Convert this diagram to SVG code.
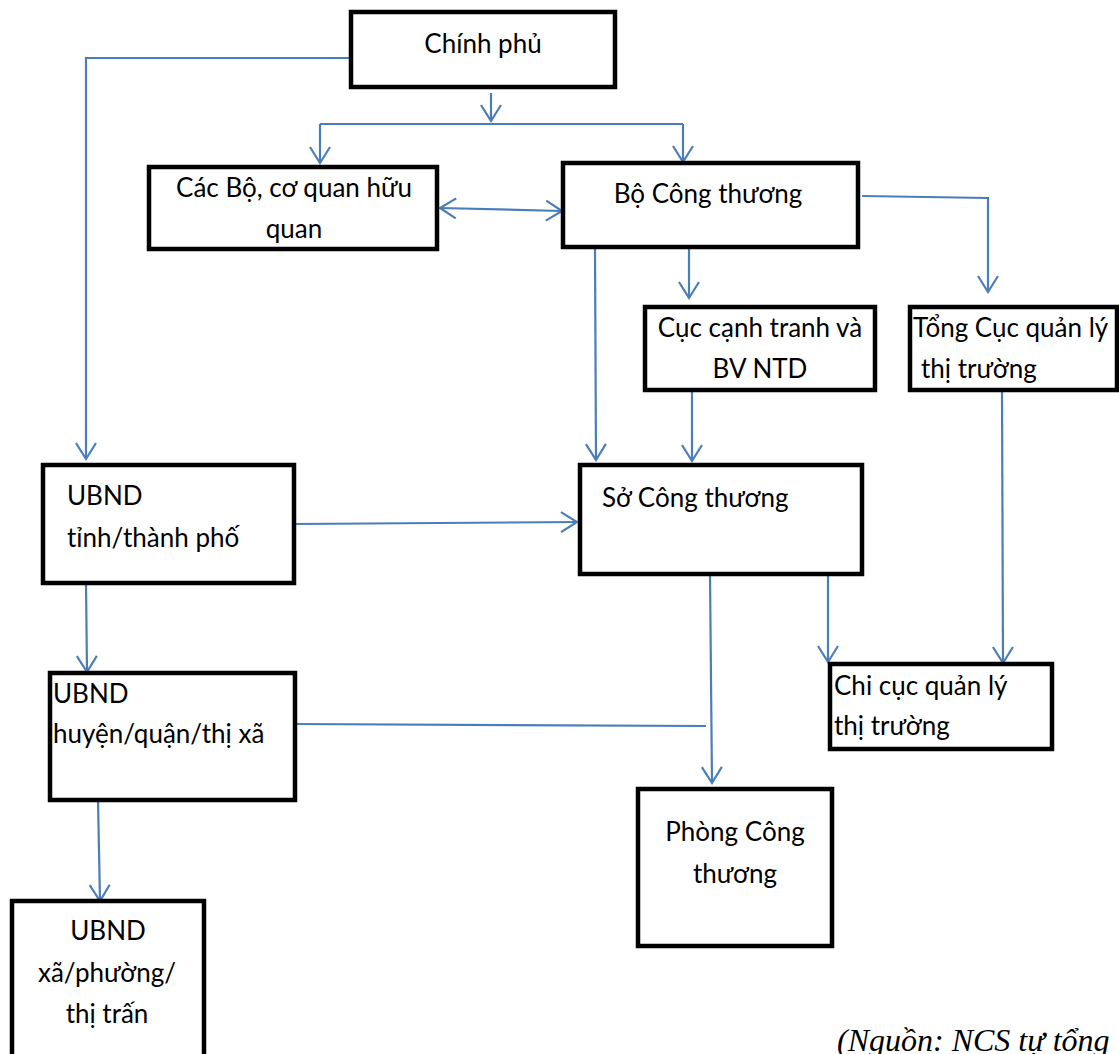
<svg xmlns="http://www.w3.org/2000/svg" width="1119" height="1054" viewBox="0 0 1119 1054">
<style>
  .box { fill: #ffffff; stroke: #000000; stroke-width: 4.5; }
  .t { font-family: Lato, "Open Sans", sans-serif; font-size: 26px; fill: #000000; }
  .c { text-anchor: middle; }
  .ln { fill: none; stroke: #4a7ebb; stroke-width: 2.2; }
  .arr { marker-end: url(#ah); }
  .cap { font-family: "Liberation Serif", serif; font-style: italic; font-size: 32px; fill: #000000; }
</style>
<defs>
  <marker id="ah" markerUnits="userSpaceOnUse" markerWidth="24" markerHeight="24" viewBox="-20 -12 24 24" refX="0" refY="0" orient="auto-start-reverse">
    <path d="M-16,-10 L0,0 L-16,10" fill="none" stroke="#4a7ebb" stroke-width="2.2"/>
  </marker>
</defs>
<rect width="1119" height="1054" fill="#ffffff"/>

<g id="connectors">
  <polyline class="ln arr" points="350,58 86,58 86,459"/>
  <line class="ln arr" x1="491" y1="93" x2="491" y2="121"/>
  <line class="ln" x1="320" y1="124" x2="683" y2="124"/>
  <line class="ln arr" x1="320" y1="124" x2="320" y2="163"/>
  <line class="ln arr" x1="683" y1="124" x2="683" y2="162"/>
  <line class="ln arr" x1="440" y1="208" x2="562" y2="211" marker-start="url(#ah)"/>
  <polyline class="ln arr" points="862,196 988,198 988,292"/>
  <line class="ln arr" x1="689" y1="249" x2="689" y2="298"/>
  <line class="ln arr" x1="595" y1="249" x2="596" y2="460"/>
  <line class="ln arr" x1="692" y1="390" x2="692" y2="461"/>
  <line class="ln arr" x1="1002" y1="390" x2="1003" y2="663"/>
  <line class="ln arr" x1="295" y1="524" x2="577" y2="522"/>
  <line class="ln arr" x1="710" y1="574" x2="712" y2="783"/>
  <line class="ln arr" x1="828" y1="574" x2="828" y2="662"/>
  <line class="ln arr" x1="86" y1="583" x2="87" y2="672"/>
  <line class="ln" x1="295" y1="724" x2="706" y2="726"/>
  <line class="ln arr" x1="98" y1="800" x2="100" y2="901"/>
</g>

<g id="chinh-phu">
  <rect class="box" x="351" y="12" width="264" height="75"/>
  <text class="t c" x="483" y="53">Chính phủ</text>
</g>
<g id="cac-bo">
  <rect class="box" x="149" y="167" width="288" height="82"/>
  <text class="t c" x="294" y="197">Các Bộ, cơ quan hữu</text>
  <text class="t c" x="294" y="238">quan</text>
</g>
<g id="bo-cong-thuong">
  <rect class="box" x="563" y="163" width="295" height="84"/>
  <text class="t c" x="708" y="203">Bộ Công thương</text>
</g>
<g id="cuc-canh-tranh">
  <rect class="box" x="645" y="307" width="230" height="83"/>
  <text class="t c" x="760" y="337">Cục cạnh tranh và</text>
  <text class="t c" x="760" y="378">BV NTD</text>
</g>
<g id="tong-cuc">
  <rect class="box" x="910" y="307" width="207" height="83"/>
  <text class="t" x="913" y="337">Tổng Cục quản lý</text>
  <text class="t" x="921" y="378">thị trường</text>
</g>
<g id="ubnd-tinh">
  <rect class="box" x="43" y="465" width="251" height="118"/>
  <text class="t" x="67" y="505">UBND</text>
  <text class="t" x="67" y="547">tỉnh/thành phố</text>
</g>
<g id="so-cong-thuong">
  <rect class="box" x="580" y="465" width="282" height="109"/>
  <text class="t" x="602" y="507">Sở Công thương</text>
</g>
<g id="chi-cuc">
  <rect class="box" x="830" y="664" width="222" height="85"/>
  <text class="t" x="834" y="695">Chi cục quản lý</text>
  <text class="t" x="834" y="735">thị trường</text>
</g>
<g id="ubnd-huyen">
  <rect class="box" x="50" y="673" width="245" height="127"/>
  <text class="t" x="53" y="703">UBND</text>
  <text class="t" x="53" y="743">huyện/quận/thị xã</text>
</g>
<g id="ubnd-xa">
  <rect class="box" x="12" y="901" width="192" height="170"/>
  <text class="t c" x="108" y="940">UBND</text>
  <text class="t c" x="107" y="982">xã/phường/</text>
  <text class="t c" x="107" y="1023">thị trấn</text>
</g>
<g id="phong-cong-thuong">
  <rect class="box" x="638" y="789" width="194" height="157"/>
  <text class="t c" x="735" y="841">Phòng Công</text>
  <text class="t c" x="735" y="883">thương</text>
</g>
<text class="cap" x="837" y="1051">(Nguồn: NCS tự tổng</text>
</svg>
